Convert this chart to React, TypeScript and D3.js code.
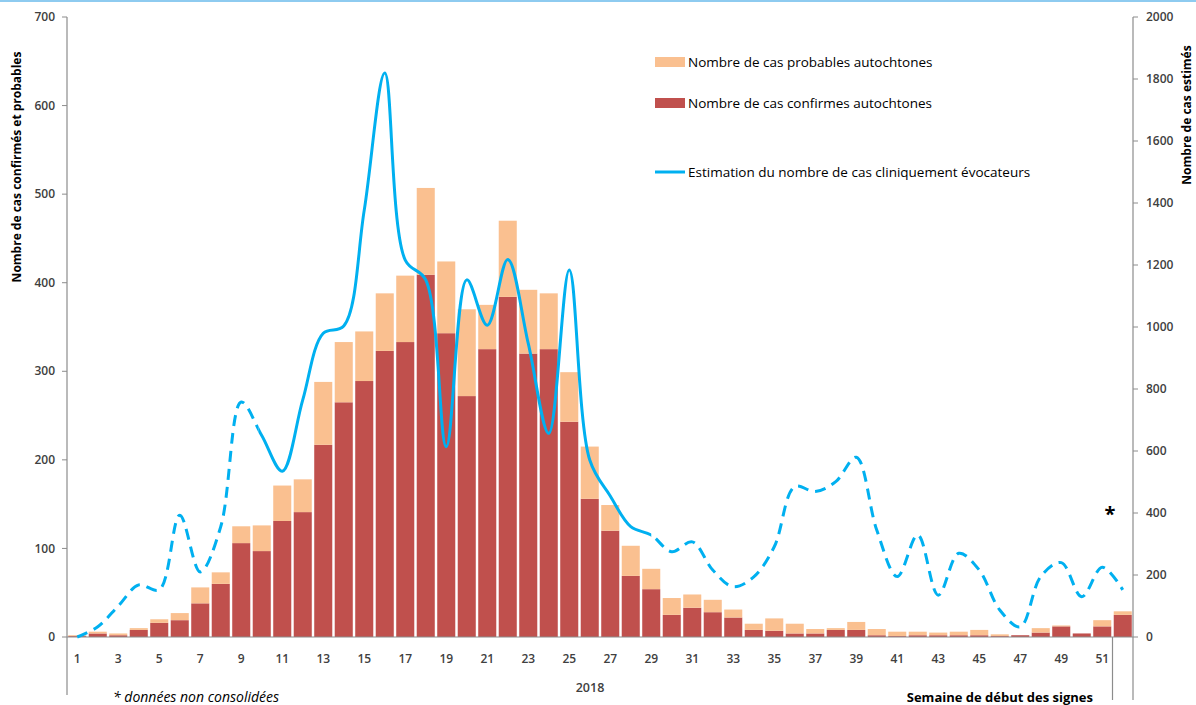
import React from "react";
import * as d3 from "d3";

const weeks = [1,2,3,4,5,6,7,8,9,10,11,12,13,14,15,16,17,18,19,20,21,22,23,24,25,26,27,28,29,30,31,32,33,34,35,36,37,38,39,40,41,42,43,44,45,46,47,48,49,50,51,52];
const weekLabels = ["1","","3","","5","","7","","9","","11","","13","","15","","17","","19","","21","","23","","25","","27","","29","","31","","33","","35","","37","","39","","41","","43","","45","","47","","49","","51",""];
const confirmed = [1,4,2,8,16,19,38,60,106,97,131,141,217,265,289,323,333,409,343,272,325,384,320,325,243,156,120,69,54,25,33,28,22,8,7,4,4,8,8,2,1,2,2,2,2,1,2,5,12,4,12,25];
const probable = [1,2,2,2,4,8,18,13,19,29,40,37,71,68,56,65,75,98,81,98,50,86,72,63,56,59,29,34,23,19,15,14,9,7,14,11,5,2,9,7,5,4,3,4,6,2,0,5,1,0,7,4];
const estimated = [0,33,100,168,152,393,210,356,758,650,535,765,980,1003,1377,1819,1216,1152,614,1152,1006,1218,947,657,1184,571,455,356,329,275,307,216,162,194,291,485,469,501,580,345,195,329,135,270,216,87,33,195,240,130,225,152];
const leftTicks = [0,100,200,300,400,500,600,700];
const rightTicks = [0,200,400,600,800,1000,1200,1400,1600,1800,2000];

const FONT = "'Open Sans', Lato, sans-serif";
const AXIS = "#8c8c8c";
const TXT = "#404040";

export default function App() {
  const W = 1196, H = 705;
  const x0 = 67, x1 = 1133, yTop = 17, yBot = 637;
  const x = d3.scaleBand<number>().domain(weeks).range([x0, x1]).paddingInner(0.12).paddingOuter(0.06);
  const yL = d3.scaleLinear().domain([0, 700]).range([yBot, yTop]);
  const yR = d3.scaleLinear().domain([0, 2000]).range([yBot, yTop]);
  const cx = (w: number) => (x(w) as number) + x.bandwidth() / 2;

  const line = d3.line<number>().x((_, i) => cx(weeks[i])).y(d => yR(d)).curve(d3.curveCatmullRom.alpha(0.5));
  const pathD = line(estimated) || "";
  const solidStart = cx(10) - 3, solidEnd = cx(29);
  const divider = (x(51) as number) + x.bandwidth() + (x.step() - x.bandwidth()) / 2;

  return (
    <svg width={W} height={H} style={{ position: "absolute", left: 0, top: 0, background: "#fff" }}>
      <defs>
        <clipPath id="solidClip"><rect x={solidStart} y={0} width={solidEnd - solidStart} height={H} /></clipPath>
        <clipPath id="dashClipA"><rect x={0} y={0} width={solidStart} height={H} /></clipPath>
        <clipPath id="dashClipB"><rect x={solidEnd} y={0} width={W - solidEnd} height={H} /></clipPath>
      </defs>
      <rect x={0} y={0} width={W} height={2} fill="#8ecbf0" />

      {/* bars */}
      {weeks.map((w, i) => (
        <g key={w}>
          <rect x={x(w)} y={yL(confirmed[i])} width={x.bandwidth()} height={yBot - yL(confirmed[i])} fill="#c0504d" />
          <rect x={x(w)} y={yL(confirmed[i] + probable[i])} width={x.bandwidth()} height={yL(confirmed[i]) - yL(confirmed[i] + probable[i])} fill="#fac090" />
        </g>
      ))}

      {/* axes */}
      <line x1={x0} x2={x1} y1={yBot} y2={yBot} stroke={AXIS} strokeWidth={1.2} />
      <line x1={x0} x2={x0} y1={yTop} y2={695} stroke={AXIS} strokeWidth={1.2} />
      <line x1={x1} x2={x1} y1={yTop} y2={700} stroke={AXIS} strokeWidth={1.2} />
      <line x1={divider} x2={divider} y1={yBot} y2={700} stroke={AXIS} strokeWidth={1.2} />
      {leftTicks.map(t => (
        <g key={"l" + t}>
          <line x1={x0 - 5} x2={x0} y1={yL(t)} y2={yL(t)} stroke={AXIS} />
          <text x={55} y={yL(t)} dy="0.35em" textAnchor="end" fontFamily={FONT} fontSize={12} fontWeight={600} fill={TXT}>{t}</text>
        </g>
      ))}
      {rightTicks.map(t => (
        <g key={"r" + t}>
          <line x1={x1} x2={x1 + 5} y1={yR(t)} y2={yR(t)} stroke={AXIS} />
          <text x={1146} y={yR(t)} dy="0.35em" textAnchor="start" fontFamily={FONT} fontSize={12} fontWeight={600} fill={TXT}>{t}</text>
        </g>
      ))}
      {weeks.map((w, i) => weekLabels[i] ? (
        <text key={"x" + w} x={cx(w)} y={663} textAnchor="middle" fontFamily={FONT} fontSize={12} fontWeight={600} fill={TXT}>{weekLabels[i]}</text>
      ) : null)}

      {/* line */}
      <path d={pathD} fill="none" stroke="#00b0f0" strokeWidth={3} clipPath="url(#solidClip)" strokeLinecap="round" />
      <path d={pathD} fill="none" stroke="#00b0f0" strokeWidth={3} strokeDasharray="11,7" clipPath="url(#dashClipA)" />
      <path d={pathD} fill="none" stroke="#00b0f0" strokeWidth={3} strokeDasharray="11,7" clipPath="url(#dashClipB)" />

      {/* axis titles */}
      <text transform="translate(21,167) rotate(-90)" textAnchor="middle" fontFamily={FONT} fontSize={12} fontWeight={700} fill="#000">Nombre de cas confirmés et probables</text>
      <text transform="translate(1191,115) rotate(-90)" textAnchor="middle" fontFamily={FONT} fontSize={12} fontWeight={700} fill="#000">Nombre de cas estimés</text>
      <text x={590} y={692} textAnchor="middle" fontFamily={FONT} fontSize={12.5} fontWeight={600} fill={TXT}>2018</text>
      <text x={1093} y={702} textAnchor="end" fontFamily={FONT} fontSize={13} fontWeight={700} fill="#000">Semaine de début des signes</text>
      <text x={113} y={702} textAnchor="start" fontFamily={FONT} fontSize={14} fontStyle="italic" fill="#000">* données non consolidées</text>
      <text x={1110} y={521} textAnchor="middle" fontFamily={FONT} fontSize={20} fontWeight={700} fill="#000">*</text>

      {/* legend */}
      <rect x={655} y={57} width={30} height={10} fill="#fac090" />
      <text x={688} y={62} dy="0.35em" fontFamily={FONT} fontSize={13.5} fill="#000">Nombre de cas probables autochtones</text>
      <rect x={655} y={98} width={30} height={10} fill="#c0504d" />
      <text x={688} y={103} dy="0.35em" fontFamily={FONT} fontSize={13.5} fill="#000">Nombre de cas confirmes autochtones</text>
      <line x1={655} x2={685} y1={172} y2={172} stroke="#00b0f0" strokeWidth={3} />
      <text x={688} y={172} dy="0.35em" fontFamily={FONT} fontSize={13.5} fill="#000">Estimation du nombre de cas cliniquement évocateurs</text>
    </svg>
  );
}
